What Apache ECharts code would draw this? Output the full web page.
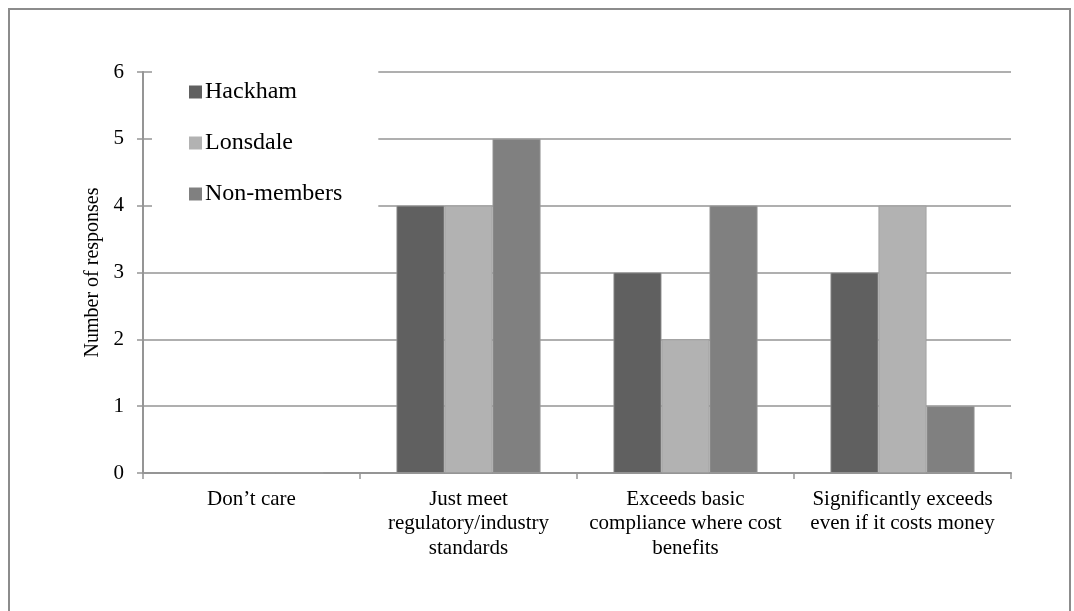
<!DOCTYPE html>
<html>
<head>
<meta charset="utf-8">
<script src="https://cdn.jsdelivr.net/npm/echarts@6/dist/echarts.min.js"></script>
<style>
  html, body { margin: 0; padding: 0; background: #fff; }
  #frame {
    position: absolute; left: 8px; top: 8px; width: 1063px; height: 640px;
    border: 2px solid #8c8c8c; box-sizing: border-box;
  }
  #chart { position: absolute; left: 0; top: 0; width: 1074px; height: 611px; }
</style>
</head>
<body>
<div id="frame"></div>
<div id="chart"></div>
<script>
// Survey answers, by respondent group
const categories = [
  'Don\u2019t care',
  'Just meet\nregulatory/industry\nstandards',
  'Exceeds basic\ncompliance where cost\nbenefits',
  'Significantly exceeds\neven if it costs money'
];
const hackham    = [0, 4, 3, 3];
const lonsdale   = [0, 4, 2, 4];
const nonMembers = [0, 5, 4, 1];
const yTicks = [0, 1, 2, 3, 4, 5, 6];

const serif = '"Liberation Serif", "Times New Roman", serif';
const gridGrey = '#959595';

const chart = echarts.init(document.getElementById('chart'), null, { renderer: 'canvas' });

function barSeries(name, values, color) {
  return {
    name: name,
    type: 'bar',
    data: values,
    barGap: '0%',
    barCategoryGap: '33.6%',
    itemStyle: { color: color, borderColor: '#9c9c9c', borderWidth: 0.8 },
    emphasis: { disabled: true },
    z: 3
  };
}

chart.setOption({
  animation: false,
  backgroundColor: 'transparent',
  grid: { left: 143, right: 63, top: 72, bottom: 138, containLabel: false },
  legend: {
    orient: 'vertical',
    left: 152,
    top: 65,
    padding: [15, 36, 15, 37],
    backgroundColor: '#fff',
    itemWidth: 13,
    itemHeight: 13,
    itemGap: 27,
    icon: 'rect',
    itemStyle: { borderWidth: 0 },
    z: 10,
    textStyle: { fontFamily: serif, fontSize: 24, color: '#000', lineHeight: 24, padding: [0, 0, 0, -2] },
    data: ['Hackham', 'Lonsdale', 'Non-members']
  },
  xAxis: {
    type: 'category',
    data: categories,
    axisLine: { show: true, lineStyle: { color: gridGrey, width: 2 } },
    axisTick: { show: true, length: 6, alignWithLabel: false, lineStyle: { color: gridGrey, width: 1.5 } },
    axisLabel: {
      fontFamily: serif, fontSize: 21, color: '#000', lineHeight: 24.5, margin: 14, interval: 0
    },
    splitLine: { show: false }
  },
  yAxis: {
    type: 'value',
    min: yTicks[0],
    max: yTicks[yTicks.length - 1],
    interval: 1,
    name: 'Number of responses',
    nameLocation: 'middle',
    nameGap: 37,
    nameRotate: 90,
    nameTextStyle: { fontFamily: serif, fontSize: 20, color: '#000' },
    axisLine: { show: true, lineStyle: { color: gridGrey, width: 2 } },
    axisTick: { show: true, length: 6, inside: false, lineStyle: { color: gridGrey, width: 1.5 } },
    axisLabel: { fontFamily: serif, fontSize: 21, color: '#000', margin: 19 },
    splitLine: { show: true, lineStyle: { color: gridGrey, width: 1.5 } }
  },
  series: [
    barSeries('Hackham', hackham, '#606060'),
    barSeries('Lonsdale', lonsdale, '#b2b2b2'),
    barSeries('Non-members', nonMembers, '#808080')
  ]
});
</script>
</body>
</html>
